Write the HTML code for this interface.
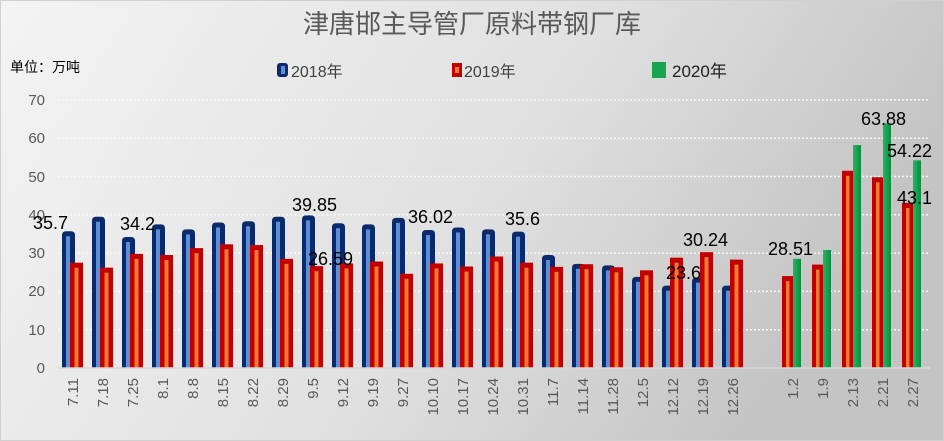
<!DOCTYPE html>
<html><head><meta charset="utf-8"><style>
body{margin:0;width:944px;height:441px;overflow:hidden;font-family:"Liberation Sans","Noto Sans CJK SC",sans-serif;}
</style></head><body>
<svg id="s" width="944" height="441" xmlns="http://www.w3.org/2000/svg" style="display:block">
<defs>
<linearGradient id="bg" x1="0" y1="0" x2="1" y2="0.3"><stop offset="0" stop-color="#f4f4f4"/><stop offset="0.6" stop-color="#e0e0e0"/><stop offset="1" stop-color="#c4c4c4"/></linearGradient>
<linearGradient id="gr" x1="0" y1="0" x2="1" y2="0"><stop offset="0" stop-color="#22b864"/><stop offset="1" stop-color="#0e8a40"/></linearGradient>
</defs>
<rect width="944" height="441" fill="url(#bg)"/>
<rect x="0.5" y="0.5" width="943" height="440" fill="none" stroke="#d0d0d0"/>
<g id="grid" stroke="#f8f8f8" stroke-width="1.5" stroke-dasharray="2,2"></g>
<g id="bars"></g>
<line x1="58" y1="368" x2="930" y2="368" stroke="#d8d8d8" stroke-width="1.5"/>
<text x="472" y="33" font-size="26" fill="#595959" text-anchor="middle" font-family="Liberation Sans,Noto Sans CJK SC,sans-serif">津唐邯主导管厂原料带钢厂库</text>
<text x="10" y="72" font-size="14" fill="#000">单位：万吨</text>
<rect x="277" y="63" width="11" height="14" rx="3" fill="#0b2a6b"/><rect x="281" y="66" width="4" height="8" fill="#5b8fd6"/>
<text x="291" y="77" font-size="16" fill="#404040">2018年</text>
<rect x="452" y="63" width="10" height="14" fill="#c00000"/><rect x="455" y="67" width="4" height="6" fill="#f07a30"/>
<text x="464" y="77" font-size="16" fill="#404040">2019年</text>
<rect x="652" y="62" width="14" height="16" fill="#17a550"/>
<text x="672" y="77" font-size="17" fill="#202020">2020年</text>
<g font-size="15" fill="#595959" text-anchor="end">
<text x="45" y="373">0</text><text x="45" y="335">10</text><text x="45" y="296">20</text><text x="45" y="258">30</text><text x="45" y="220">40</text><text x="45" y="182">50</text><text x="45" y="143">60</text><text x="45" y="105">70</text>
</g>
<g id="xl" font-size="15" fill="#595959" text-anchor="end">
<text transform="translate(78,378) rotate(-90)">7.11</text>
<text transform="translate(108,378) rotate(-90)">7.18</text>
<text transform="translate(138,378) rotate(-90)">7.25</text>
<text transform="translate(168,378) rotate(-90)">8.1</text>
<text transform="translate(198,378) rotate(-90)">8.8</text>
<text transform="translate(228,378) rotate(-90)">8.15</text>
<text transform="translate(258,378) rotate(-90)">8.22</text>
<text transform="translate(288,378) rotate(-90)">8.29</text>
<text transform="translate(318,378) rotate(-90)">9.5</text>
<text transform="translate(348,378) rotate(-90)">9.12</text>
<text transform="translate(378,378) rotate(-90)">9.19</text>
<text transform="translate(408,378) rotate(-90)">9.27</text>
<text transform="translate(438,378) rotate(-90)">10.10</text>
<text transform="translate(468,378) rotate(-90)">10.17</text>
<text transform="translate(498,378) rotate(-90)">10.24</text>
<text transform="translate(528,378) rotate(-90)">10.31</text>
<text transform="translate(558,378) rotate(-90)">11.7</text>
<text transform="translate(588,378) rotate(-90)">11.14</text>
<text transform="translate(618,378) rotate(-90)">11.28</text>
<text transform="translate(648,378) rotate(-90)">12.5</text>
<text transform="translate(678,378) rotate(-90)">12.12</text>
<text transform="translate(708,378) rotate(-90)">12.19</text>
<text transform="translate(738,378) rotate(-90)">12.26</text>
<text transform="translate(798,378) rotate(-90)">1.2</text>
<text transform="translate(828,378) rotate(-90)">1.9</text>
<text transform="translate(858,378) rotate(-90)">2.13</text>
<text transform="translate(888,378) rotate(-90)">2.21</text>
<text transform="translate(918,378) rotate(-90)">2.27</text>
</g>
<g font-size="18" fill="#000">
<text x="33" y="229">35.7</text>
<text x="120" y="230">34.2</text>
<text x="292" y="211">39.85</text>
<text x="308" y="265">26.59</text>
<text x="408" y="223">36.02</text>
<text x="505" y="225">35.6</text>
<text x="666" y="279">23.6</text>
<text x="683" y="246">30.24</text>
<text x="768" y="255">28.51</text>
<text x="861" y="125">63.88</text>
<text x="887" y="157">54.22</text>
<text x="897" y="204">43.1</text>
</g>
</svg>
<script>
(function(){
var ns="http://www.w3.org/2000/svg";
function el(p,t,a){var e=document.createElementNS(ns,t);for(var k in a)e.setAttribute(k,a[k]);p.appendChild(e);return e;}
var g=document.getElementById('grid'),b=document.getElementById('bars');
for(var i=1;i<=7;i++){var y=368-i*38.3;el(g,'line',{x1:58,y1:y,x2:930,y2:y});}
function Y(v){return 368-v*3.83;}
var b18=[35.7,39.5,34.2,37.5,36.2,38,38.3,39.5,39.85,37.8,37.5,39.2,36.02,36.7,36.2,35.6,29.5,27.2,26.8,23.8,21.5,23.6,21.5];
var r19=[27.5,26.2,29.8,29.5,31.3,32.3,32.1,28.5,26.59,27.3,27.8,24.6,27.3,26.5,29.1,27.5,26.4,27.1,26.3,25.5,28.8,30.24,28.3];
for(var i=0;i<23;i++){var c=73+i*30;
 var y=Y(b18[i]);
 el(b,'path',{d:'M'+(c-11)+',368 V'+(y+4)+' Q'+(c-11)+','+y+' '+(c-7)+','+y+' H'+(c-2)+' Q'+(c+2)+','+y+' '+(c+2)+','+(y+4)+' V368 Z',fill:'#0b2a6b'});
 el(b,'rect',{x:c-7,y:y+5,width:4,height:368-y-5,fill:'#5b8fd6'});
 y=Y(r19[i]);
 el(b,'rect',{x:c-3,y:y,width:13,height:368-y,fill:'#c00000'});
 el(b,'rect',{x:c+1.5,y:y+5,width:4,height:368-y-5,fill:'#f07a30'});
}
var r20=[24,27,51.5,49.8,43.1],g20=[28.51,30.8,58.2,63.88,54.22];
for(var i=0;i<5;i++){var c=793+i*30;
 var y=Y(r20[i]);
 el(b,'rect',{x:c-11,y:y,width:11,height:368-y,fill:'#c00000'});
 el(b,'rect',{x:c-7,y:y+5,width:3.5,height:368-y-5,fill:'#f07a30'});
 y=Y(g20[i]);
 el(b,'rect',{x:c,y:y,width:8,height:368-y,fill:'url(#gr)'});
}
})();
</script>
</body></html>
